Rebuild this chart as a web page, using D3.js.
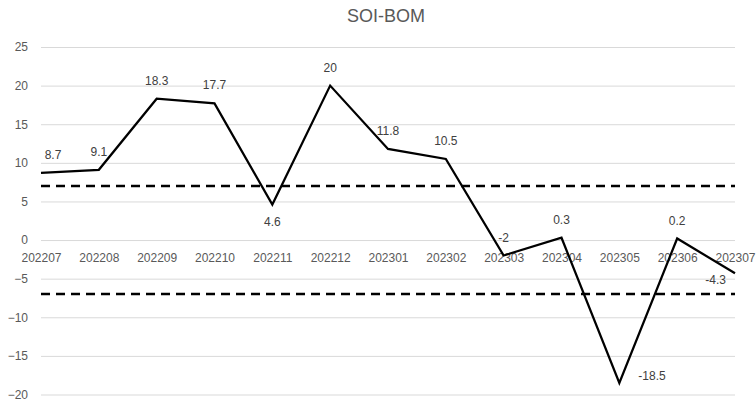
<!DOCTYPE html>
<html>
<head>
<meta charset="utf-8">
<script src="https://cdn.jsdelivr.net/npm/d3@7"></script>
<style>
  body { margin: 0; background: #fff; }
  text { font-family: "Liberation Sans", Arial, sans-serif; }
</style>
</head>
<body>
<div id="chart"></div>
<script>
// data
var months = ['202207','202208','202209','202210','202211','202212','202301','202302','202303','202304','202305','202306','202307'];
var soi = [8.7, 9.1, 18.3, 17.7, 4.6, 20, 11.8, 10.5, -2, 0.3, -18.5, 0.2, -4.3];
var thresholds = [7, -7];
var yTicks = [-20, -15, -10, -5, 0, 5, 10, 15, 20, 25];
// where each data label sits relative to its point
var labelPos = ['aboveRight','above','above','above','below','above','above','above','above','above','right','above','left'];

var width = 756, height = 403;
// plot edges (note: "top" is taken by window.top, so prefix these)
var plotLeft = 41, plotRight = 735, plotTop = 47, plotBottom = 394.5;

var svg = d3.select('#chart').append('svg')
    .attr('width', width)
    .attr('height', height);

var x = d3.scalePoint().domain(months).range([plotLeft, plotRight]).padding(0);
var y = d3.scaleLinear().domain([-20, 25]).range([plotBottom, plotTop]);

// title
svg.append('text')
    .attr('x', 386).attr('y', 22)
    .attr('text-anchor', 'middle')
    .attr('font-size', 18)
    .attr('fill', '#595959')
    .text('SOI-BOM');

// gridlines + y labels
var yAxis = d3.axisLeft(y).tickValues(yTicks).tickSize(-(plotRight - plotLeft)).tickPadding(10);
var gy = svg.append('g')
    .attr('transform', 'translate(' + plotLeft + ',0)')
    .call(yAxis);
gy.select('.domain').remove();
gy.selectAll('.tick line').attr('stroke', '#d9d9d9').attr('stroke-width', 1);
gy.selectAll('.tick text')
    .attr('font-size', 12)
    .attr('fill', '#595959')
    .attr('x', -13);

// category labels sit under the zero line
var xAxis = d3.axisBottom(x).tickSize(0).tickPadding(13);
var gx = svg.append('g')
    .attr('transform', 'translate(0,' + y(0) + ')')
    .call(xAxis);
gx.select('.domain').remove();
gx.selectAll('.tick text')
    .attr('font-size', 12)
    .attr('fill', '#595959');

// dashed threshold lines
svg.selectAll('.thr').data(thresholds).enter().append('line')
    .attr('class', 'thr')
    .attr('x1', plotLeft).attr('x2', plotRight)
    .attr('y1', function(d){ return y(d); })
    .attr('y2', function(d){ return y(d); })
    .attr('stroke', '#000')
    .attr('stroke-width', 2.5)
    .attr('stroke-dasharray', '9,6');

// the SOI line
var line = d3.line()
    .x(function(d, i){ return x(months[i]); })
    .y(function(d){ return y(d); });

svg.append('path')
    .datum(soi)
    .attr('d', line)
    .attr('fill', 'none')
    .attr('stroke', '#000')
    .attr('stroke-width', 2.25)
    .attr('stroke-linejoin', 'miter');

// data labels
svg.selectAll('.lbl').data(soi).enter().append('text')
    .attr('class', 'lbl')
    .attr('font-size', 12)
    .attr('fill', '#404040')
    .attr('x', function(d, i){
        var p = labelPos[i], cx = x(months[i]);
        if (p === 'aboveRight') return cx + 12;
        if (p === 'right') return cx + 19;
        if (p === 'left') return cx - 9;
        return cx;
    })
    .attr('y', function(d, i){
        var p = labelPos[i], cy = y(d);
        if (p === 'below') return cy + 21;
        if (p === 'right') return cy - 3;
        if (p === 'left') return cy + 11;
        return cy - 14;
    })
    .attr('text-anchor', function(d, i){
        var p = labelPos[i];
        if (p === 'right') return 'start';
        if (p === 'left') return 'end';
        return 'middle';
    })
    .text(function(d){ return d; });
</script>
</body>
</html>
